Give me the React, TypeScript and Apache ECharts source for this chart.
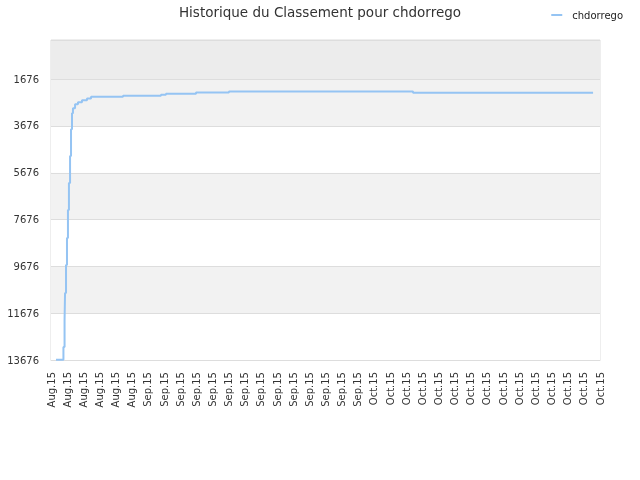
import React, { useEffect, useRef } from 'react';
import * as echarts from 'echarts';

const categories = [
  'Aug.15', 'Aug.15', 'Aug.15', 'Aug.15', 'Aug.15', 'Aug.15',
  'Sep.15', 'Sep.15', 'Sep.15', 'Sep.15', 'Sep.15', 'Sep.15', 'Sep.15',
  'Sep.15', 'Sep.15', 'Sep.15', 'Sep.15', 'Sep.15', 'Sep.15', 'Sep.15',
  'Oct.15', 'Oct.15', 'Oct.15', 'Oct.15', 'Oct.15', 'Oct.15', 'Oct.15', 'Oct.15',
  'Oct.15', 'Oct.15', 'Oct.15', 'Oct.15', 'Oct.15', 'Oct.15', 'Oct.15',
];

// time of each rank change, in units of the x-axis labels
const timeIdx = [
  0.31, 0.77, 0.84, 0.87, 0.93, 0.99, 1.05, 1.11, 1.18, 1.24, 1.3, 1.36,
  1.49, 1.67, 1.92, 2.23, 2.48, 4.46, 6.81, 7.12, 8.98, 11.02, 22.42, 33.57,
];
const ranks = [
  13660, 13121, 11968, 10814, 9619, 8465, 7270, 6116, 4963, 3810, 3127, 2913,
  2742, 2657, 2572, 2499, 2431, 2388, 2345, 2302, 2242, 2200, 2260, 2260,
];

const worstRank = 13676;
const bestRank = 1;
const rankStep = 2000;

const seriesName = 'chdorrego';
const title = 'Historique du Classement pour chdorrego';

const font = 'DejaVu Sans';

const App: React.FC = () => {
  const chartRef = useRef<HTMLDivElement>(null);

  useEffect(() => {
    if (!chartRef.current) return;
    const chart = echarts.init(chartRef.current, undefined, { renderer: 'svg' });

    // the rank axis is drawn upside down: plot distance from the worst rank
    const points = timeIdx.map((t, i) => [t, worstRank - ranks[i]]);
    const top = worstRank - bestRank;

    const option: echarts.EChartsOption = {
      animation: false,
      textStyle: { fontFamily: font },
      title: {
        text: title,
        left: 'center',
        top: 0,
        textStyle: { fontSize: 13.5, fontWeight: 'normal', color: '#333', fontFamily: font },
      },
      legend: {
        right: 12,
        top: 5,
        icon: 'rect',
        itemWidth: 11,
        itemHeight: 2,
        textStyle: { fontSize: 10, color: '#222', fontFamily: font, padding: [0, 0, 0, 5] },
        data: [seriesName],
      },
      grid: {
        left: 51,
        right: 40,
        top: 40,
        bottom: 120,
        show: true,
        borderColor: '#dddddd',
        borderWidth: 1,
      },
      xAxis: [
        {
          type: 'category',
          data: categories,
          boundaryGap: false,
          axisLine: { lineStyle: { color: '#dddddd' } },
          axisTick: { show: false },
          splitLine: { show: false },
          axisLabel: {
            interval: 0,
            rotate: 90,
            margin: 12,
            fontSize: 10,
            color: '#333',
            fontFamily: font,
          },
        },
        {
          type: 'value',
          min: 0,
          max: categories.length - 1,
          show: false,
        },
      ],
      yAxis: {
        type: 'value',
        min: 0,
        max: top,
        interval: rankStep,
        axisLine: { show: false },
        axisTick: { show: false },
        axisLabel: {
          margin: 12,
          fontSize: 10,
          color: '#333',
          fontFamily: font,
          formatter: (v: number) => (v > top - rankStep / 2 ? '' : String(worstRank - v)),
        },
        splitLine: { lineStyle: { color: '#dddddd' } },
        splitArea: {
          show: true,
          areaStyle: {
            color: ['#ffffff', '#f2f2f2', '#ffffff', '#f2f2f2', '#ffffff', '#f2f2f2', '#ececec'],
          },
        },
      },
      series: [
        {
          name: seriesName,
          type: 'line',
          xAxisIndex: 1,
          step: 'end',
          symbol: 'none',
          data: points,
          itemStyle: { color: '#95c4f3' },
          lineStyle: { width: 2, color: '#95c4f3' },
        },
      ],
    };

    chart.setOption(option);

    return () => {
      chart.dispose();
    };
  }, []);

  return (
    <div
      ref={chartRef}
      style={{ position: 'fixed', left: 0, top: 0, width: '640px', height: '480px' }}
    />
  );
};

export default App;
